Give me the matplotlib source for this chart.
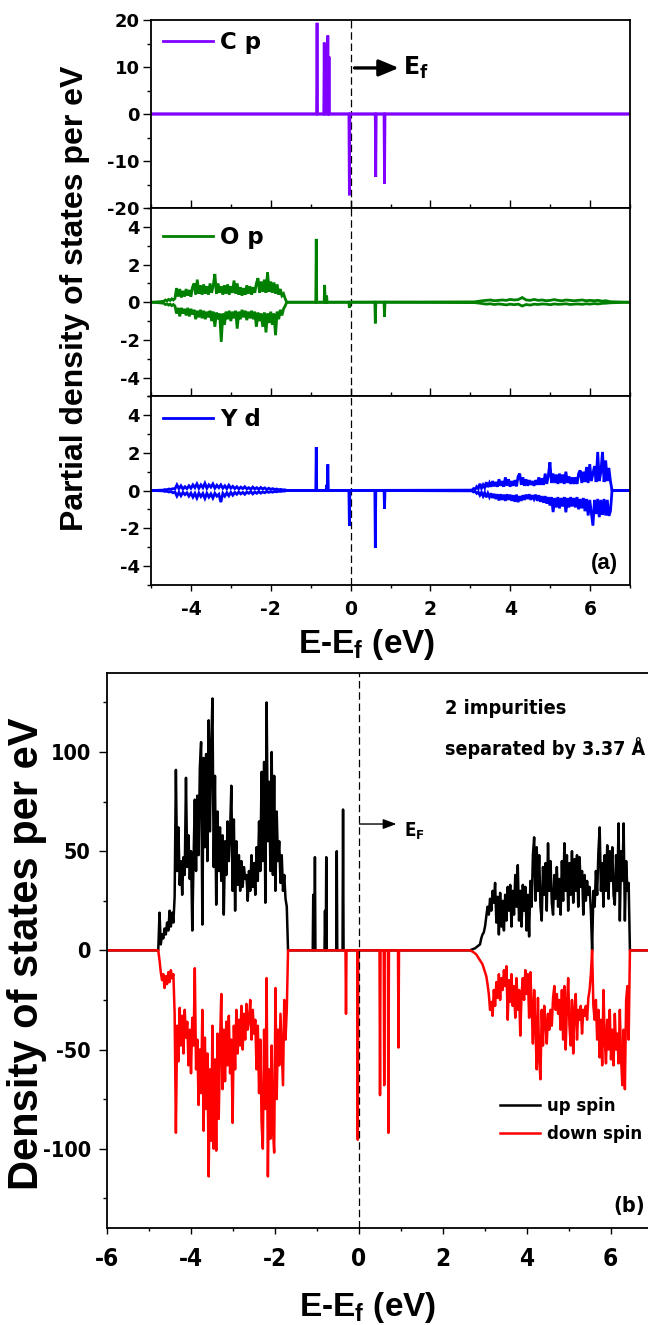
import numpy as np
import matplotlib
matplotlib.use("Agg")
import matplotlib.pyplot as plt
from matplotlib.font_manager import FontProperties, findfont
from matplotlib.ticker import MultipleLocator

# ----------------------------------------------------------------- data
cp_up_spike_E = [-0.84, -0.66, -0.57, -0.54]
cp_up_spike_v = [19.4, 15.2, 16.7, 12.2]
cp_dn_spike_E = [-0.03, 0.63, 0.85]
cp_dn_spike_v = [-17.3, -13.4, -14.8]

op_up_spike_E = [-0.86, -0.65, -0.60]
op_up_spike_v = [3.36, 0.92, 0.35]
op_dn_spike_E = [-0.03, 0.62, 0.85]
op_dn_spike_v = [-0.3, -1.12, -0.77]

op_band1_range = (-4.68, -1.60)
op_band1_up = [0.05, 0.12, 0.08, 0.15, 0.1, 0.18, 0.12, 0.2, 0.75, 0.3, 0.7, 0.25, 0.6, 0.3, 0.7, 0.35,
               0.65, 0.3, 0.8, 1.0, 0.4, 1.2, 0.45, 0.9, 0.4, 0.95, 0.45, 0.85, 0.4, 1.0, 0.5, 0.9,
               1.5, 0.45, 1.0, 0.5, 0.85, 0.4, 0.9, 0.45, 0.95, 0.4, 0.85, 0.5, 1.15, 0.45, 1.0, 0.4,
               0.8, 0.35, 0.75, 0.4, 0.9, 0.45, 0.85, 0.4, 0.8, 0.5, 1.0, 1.28, 0.5, 1.1, 0.55, 1.2,
               0.5, 1.6, 0.55, 1.1, 0.5, 1.05, 0.45, 0.95, 0.4, 0.7, 0.35, 0.45, 0.2, 0.0]
op_band1_dn = [-0.05, -0.12, -0.08, -0.15, -0.1, -0.18, -0.12, -0.2, -0.6, -0.3, -0.75, -0.3, -0.6, -0.35,
               -0.7, -0.3, -0.75, -0.35, -0.65, -0.4, -0.9, -0.45, -0.8, -0.4, -0.85, -0.45, -0.9, -0.5,
               -0.8, -0.45, -1.0, -0.5, -1.3, -0.55, -0.9, -0.6, -2.1, -0.6, -1.2, -0.5, -0.9, -0.45,
               -1.0, -0.5, -0.85, -0.45, -1.4, -0.5, -0.9, -0.4, -0.8, -0.45, -0.95, -0.5, -0.85, -0.45,
               -0.9, -0.5, -1.3, -0.55, -1.0, -0.6, -1.3, -0.55, -1.6, -0.6, -1.1, -0.5, -1.2, -0.6,
               -1.75, -0.5, -0.9, -0.4, -0.7, -0.35, -0.2, 0.0]
op_band2_range = (3.10, 6.50)
op_band2_up = [0.02, 0.05, 0.08, 0.1, 0.12, 0.08, 0.1, 0.12, 0.1, 0.15, 0.12, 0.14, 0.25, 0.12, 0.1,
               0.15, 0.1, 0.12, 0.08, 0.1, 0.14, 0.1, 0.08, 0.12, 0.1, 0.08, 0.1, 0.12, 0.08, 0.1,
               0.08, 0.1, 0.06, 0.08, 0.03]
op_band2_dn = [-0.02, -0.04, -0.07, -0.1, -0.08, -0.12, -0.09, -0.11, -0.14, -0.1, -0.13, -0.1, -0.2,
               -0.12, -0.15, -0.1, -0.12, -0.09, -0.1, -0.13, -0.09, -0.11, -0.1, -0.08, -0.12, -0.1,
               -0.09, -0.11, -0.08, -0.1, -0.07, -0.09, -0.06, -0.05, -0.03]

yd_up_spike_E = [-0.86, -0.60, -0.57]
yd_up_spike_v = [2.31, 0.3, 1.39]
yd_dn_spike_E = [-0.03, 0.62, 0.85]
yd_dn_spike_v = [-1.87, -3.06, -0.98]

yd_band1_range = (-4.70, -1.60)
yd_band1_up = [0.02, 0.05, 0.04, 0.08, 0.06, 0.1, 0.08, 0.3, 0.1, 0.25, 0.08, 0.2, 0.1, 0.25, 0.12, 0.3,
               0.15, 0.35, 0.12, 0.3, 0.15, 0.38, 0.12, 0.3, 0.18, 0.35, 0.12, 0.28, 0.15, 0.3, 0.12,
               0.25, 0.1, 0.28, 0.12, 0.22, 0.1, 0.2, 0.08, 0.18, 0.1, 0.2, 0.08, 0.15, 0.06, 0.18, 0.08,
               0.15, 0.06, 0.16, 0.08, 0.14, 0.05, 0.12, 0.06, 0.1, 0.05, 0.08, 0.04, 0.06, 0.03, 0.04, 0.0]
yd_band1_dn = [-0.02, -0.05, -0.04, -0.08, -0.06, -0.12, -0.08, -0.3, -0.1, -0.28, -0.1, -0.22, -0.12,
               -0.3, -0.14, -0.35, -0.15, -0.4, -0.14, -0.32, -0.16, -0.42, -0.15, -0.35, -0.18, -0.4,
               -0.15, -0.3, -0.2, -0.62, -0.15, -0.3, -0.12, -0.28, -0.1, -0.25, -0.1, -0.2, -0.08,
               -0.18, -0.1, -0.2, -0.08, -0.15, -0.06, -0.18, -0.08, -0.15, -0.06, -0.14, -0.07, -0.12,
               -0.05, -0.1, -0.06, -0.09, -0.05, -0.07, -0.04, -0.05, -0.03, -0.03, 0.0]
yd_band2_range = (3.04, 6.55)
yd_band2_up = [0.02, 0.1, 0.05, 0.2, 0.1, 0.36, 0.12, 0.3, 0.15, 0.44, 0.18, 0.4, 0.2, 0.5, 0.22, 0.45,
               0.2, 0.6, 0.25, 0.5, 0.2, 0.7, 0.25, 0.6, 0.2, 0.5, 0.25, 0.55, 0.22, 0.75, 0.9, 0.3,
               0.7, 0.25, 0.6, 0.25, 0.55, 0.3, 0.5, 0.25, 0.55, 0.3, 0.7, 0.3, 0.65, 0.3, 0.9, 0.35,
               0.8, 1.5, 0.4, 0.9, 0.4, 0.85, 0.35, 0.9, 0.4, 0.85, 0.35, 1.0, 0.4, 0.75, 0.35, 0.7,
               0.35, 0.7, 0.35, 0.9, 1.07, 0.4, 1.0, 0.45, 1.25, 0.4, 1.4, 0.5, 0.9, 1.3, 0.45, 2.05,
               0.5, 1.0, 2.05, 0.45, 1.6, 0.5, 1.2, 0.5, 0.0]
yd_band2_dn = [-0.02, -0.08, -0.05, -0.15, -0.08, -0.25, -0.1, -0.3, -0.12, -0.36, -0.15, -0.35, -0.15,
               -0.4, -0.18, -0.45, -0.2, -0.53, -0.2, -0.5, -0.22, -0.55, -0.2, -0.5, -0.22, -0.55,
               -0.25, -0.6, -0.22, -0.62, -0.3, -0.55, -0.25, -0.5, -0.22, -0.45, -0.2, -0.5, -0.25,
               -0.45, -0.22, -0.55, -0.25, -0.6, -0.3, -0.65, -0.3, -0.7, -0.35, -0.8, -0.35, -1.15,
               -0.4, -0.9, -0.35, -0.95, -0.4, -0.85, -0.35, -1.16, -0.4, -0.9, -0.35, -0.85, -0.4,
               -0.9, -0.35, -1.0, -0.45, -0.95, -0.4, -1.1, -0.45, -1.33, -0.5, -1.2, -1.87, -0.5,
               -1.25, -0.45, -1.42, -0.5, -1.3, -0.45, -1.33, -0.5, -1.35, -1.1, 0.0]

tot_up_spike_E = [-1.08, -1.04, -0.80, -0.77, -0.52, -0.37]
tot_up_spike_v = [28, 47, 20, 47, 50, 71]
tot_dn_spike_E = [-0.30, -0.02, 0.51, 0.61, 0.71, 0.95]
tot_dn_spike_v = [-32, -95.5, -73, -68, -92, -49]

tot_band1_range = (-4.77, -1.68)
tot_band1_up = [0, 19, 3, 8, 6, 11, 8, 14, 10, 20, 12, 19, 14, 27, 91, 40, 62, 33, 45, 28, 47, 38, 87,
                42, 58, 36, 50, 10, 45, 76, 40, 78, 48, 92, 105, 13, 97, 52, 99, 45, 116, 60, 102, 127,
                42, 88, 23, 70, 40, 62, 35, 58, 18, 55, 38, 65, 45, 60, 83, 30, 66, 20, 55, 33, 48, 30,
                45, 32, 42, 36, 38, 25, 40, 30, 48, 32, 44, 28, 52, 35, 65, 40, 90, 45, 95, 24, 125, 55,
                85, 40, 100, 38, 88, 30, 70, 45, 55, 34, 48, 30, 38, 26, 22, 0]
tot_band1_dn = [0, -5, -11, -15, -12, -19, -13, -17, -11, -16, -10, -14, -12, -32, -92, -38, -56, -29,
                -48, -33, -52, -30, -44, -36, -58, -40, -62, -34, -48, -9, -60, -45, -78, -50, -72, -30,
                -91, -44, -80, -52, -114, -60, -96, -38, -100, -55, -101, -42, -85, -48, -22, -70, -40,
                -66, -36, -58, -33, -62, -45, -87, -38, -60, -30, -52, -35, -48, -28, -50, -32, -45,
                -27, -40, -35, -25, -45, -30, -42, -35, -60, -38, -72, -45, -87, -100, -40, -80, -14,
                -114, -60, -95, -48, -90, -102, -19, -75, -40, -58, -32, -50, -68, -25, -45, -30, 0]
tot_band2_range = (2.65, 6.46)
tot_band2_up = [0, 0.3, 0.5, 0.8, 1.0, 1.5, 2, 2.5, 3, 6, 8, 9, 12, 17, 22, 18, 26, 20, 30, 24, 34, 14,
                27, 8, 29, 12, 25, 10, 28, 15, 32, 20, 33, 12, 30, 18, 38, 22, 43, 15, 30, 12, 33, 20,
                32, 10, 28, 7, 35, 22, 48, 57, 25, 52, 30, 48, 22, 15, 42, 28, 44, 20, 54, 30, 45, 24,
                18, 38, 26, 42, 22, 36, 18, 45, 25, 54, 30, 48, 20, 44, 28, 50, 24, 46, 30, 48, 22, 47,
                32, 40, 18, 38, 25, 35, 28, 32, 20, 0, 30, 22, 40, 28, 50, 62, 30, 44, 22, 48, 30, 53,
                26, 50, 35, 52, 28, 23, 48, 30, 64, 15, 50, 35, 64, 15, 45, 30, 34, 0]
tot_band2_dn = [0, -0.3, -0.6, -1, -1.5, -2, -3, -4, -5, -6, -7, -9, -11, -13, -17, -22, -30, -26, -33,
                -20, -28, -16, -24, -12, -25, -14, -20, -10, -18, -8, -35, -15, -26, -12, -28, -18, -34,
                -14, -30, -20, -43, -22, -14, -25, -10, -22, -12, -34, -11, -28, -47, -20, -38, -60,
                -24, -55, -65, -30, -48, -28, -36, -47, -32, -40, -30, -38, -24, -18, -30, -22, -32,
                -25, -40, -20, -45, -18, -50, -28, -14, -38, -48, -25, -52, -30, -22, -45, -30, -35,
                -28, -42, -30, -33, -28, -35, -24, -20, -12, 0, -28, -35, -25, -45, -30, -54, -35, -58,
                -20, -45, -57, -35, -50, -30, -55, -40, -58, -32, -50, -42, -57, -30, -55, -68, -40,
                -70, -25, -18, -45, 0]

# ----------------------------------------------------------------- fonts
def font_path(fam, stretch="normal"):
    try:
        return findfont(FontProperties(family=fam, weight="bold", stretch=stretch),
                        fallback_to_default=False)
    except Exception:
        return ""

if "Condensed" in font_path("DejaVu Sans", "condensed"):
    NARROW, NSTRETCH = "DejaVu Sans", "condensed"
else:
    NARROW, NSTRETCH = "Liberation Sans", "normal"
ARIAL = "Liberation Sans"
WIDE = "DejaVu Sans"

plt.rcParams["font.family"] = [WIDE]
plt.rcParams["font.weight"] = "bold"
plt.rcParams["axes.linewidth"] = 1.3
plt.rcParams["axes.unicode_minus"] = False


def build_curve(lo, hi, bands, spike_E, spike_v, hw=0.012):
    pts = [(lo, 0.0), (hi, 0.0)]
    for (e0, e1), vals in bands:
        E = np.linspace(e0, e1, len(vals))
        pts += list(zip(E, vals))
    for e, v in zip(spike_E, spike_v):
        pts += [(e - hw, 0.0), (e, v), (e + hw, 0.0)]
    pts.sort(key=lambda p: p[0])
    arr = np.array(pts, dtype=float)
    return arr[:, 0], arr[:, 1]


W, H = 648.0, 1325.0
fig = plt.figure(figsize=(W / 100, H / 100), dpi=100)


def fax(l, t, r, b):
    return fig.add_axes([l / W, 1 - b / H, (r - l) / W, (b - t) / H])


ax1 = fax(151, 20, 630, 208)
ax2 = fax(151, 208, 630, 396.5)
ax3 = fax(151, 396.5, 630, 584.5)
axb = fax(106.6, 672.7, 106.6 + 13 * 42, 1228)

dash = (0, (6, 3))

specs = [
    (ax1, "#8000ff", "C p", [], [], cp_up_spike_E, cp_up_spike_v, cp_dn_spike_E, cp_dn_spike_v, (-20, 20), 10, 5, 0.94),
    (ax2, "#008000", "O p", [(op_band1_range, op_band1_up), (op_band2_range, op_band2_up)],
     [(op_band1_range, op_band1_dn), (op_band2_range, op_band2_dn)],
     op_up_spike_E, op_up_spike_v, op_dn_spike_E, op_dn_spike_v, (-5, 5), 2, 1, 0.905),
    (ax3, "#0000ff", "Y d", [(yd_band1_range, yd_band1_up), (yd_band2_range, yd_band2_up)],
     [(yd_band1_range, yd_band1_dn), (yd_band2_range, yd_band2_dn)],
     yd_up_spike_E, yd_up_spike_v, yd_dn_spike_E, yd_dn_spike_v, (-5, 5), 2, 1, 0.94),
]
for i, (ax, col, lab, bu, bd, ue, uv, de, dv, ylim, maj, mnr, legy) in enumerate(specs):
    xu, yu = build_curve(-4.95, 6.95, bu, ue, uv)
    xd, yd = build_curve(-4.95, 6.95, bd, de, dv)
    l1, = ax.plot(xu, yu, color=col, lw=2.0, solid_joinstyle="miter")
    ax.plot(xd, yd, color=col, lw=2.0, solid_joinstyle="miter")
    ax.axvline(0, color="black", lw=0.9, ls=dash, zorder=0)
    ax.set_xlim(-5, 7)
    ax.set_ylim(*ylim)
    ax.xaxis.set_major_locator(MultipleLocator(2))
    ax.xaxis.set_minor_locator(MultipleLocator(1))
    ax.yaxis.set_major_locator(MultipleLocator(maj))
    ax.yaxis.set_minor_locator(MultipleLocator(mnr))
    last = (i == 2)
    ax.tick_params(axis="x", which="both", direction=("out" if last else "in"),
                   top=False, bottom=True, labelbottom=last, labelsize=13.5, pad=6.5,
                   labelfontfamily=WIDE)
    ax.tick_params(axis="x", which="major", length=(4.5 if last else 6), width=1.0)
    ax.tick_params(axis="x", which="minor", length=(2.5 if last else 3), width=1.0)
    ax.tick_params(axis="y", which="both", direction="out", left=True, right=False,
                   labelsize=13, pad=2, labelfontfamily=WIDE)
    ax.tick_params(axis="y", which="major", length=6, width=1.0)
    ax.tick_params(axis="y", which="minor", length=3, width=1.0)
    ax.legend([l1], [lab], loc="upper left", bbox_to_anchor=(0.025, legy), frameon=False,
              borderpad=0, borderaxespad=0, handlelength=2.2, handletextpad=0.3,
              prop=dict(family=WIDE, weight="bold", size=16.5))

ax1.annotate("", xy=(1.21, 9.8), xytext=(0.1, 9.8),
             arrowprops=dict(arrowstyle="-|>,head_length=0.6,head_width=0.25", lw=2.4,
                             color="black", shrinkA=0, shrinkB=0, mutation_scale=20))
ax1.text(1.31, 9.8, "E$_\\mathregular{f}$", fontsize=17, family=WIDE, weight="bold",
         ha="left", va="center")
ax3.text(0.975, 0.114, "(a)", transform=ax3.transAxes, ha="right", va="center",
         fontsize=16, family=ARIAL, weight="bold")

fig.text(75 / W, 1 - 298 / H, "Partial density of states per eV", rotation=90,
         ha="center", va="center", family=ARIAL, weight="bold", fontsize=23)
fig.text(367 / W, 1 - 653 / H, "E-E$_\\mathregular{f}$ (eV)", ha="center", va="baseline",
         family=ARIAL, weight="bold", fontsize=24)

# ---------------- panel (b)
xu, yu = build_curve(-6.5, 7.5, [(tot_band1_range, tot_band1_up), (tot_band2_range, tot_band2_up)],
                     tot_up_spike_E, tot_up_spike_v)
xd, yd = build_curve(-6.5, 7.5, [(tot_band1_range, tot_band1_dn), (tot_band2_range, tot_band2_dn)],
                     tot_dn_spike_E, tot_dn_spike_v)
lu, = axb.plot(xu, yu, color="black", lw=1.8)
ld, = axb.plot(xd, yd, color="#ff0000", lw=1.8)
axb.axvline(0, color="black", lw=0.9, ls=dash, zorder=3)
axb.set_xlim(-6, 7)
axb.set_ylim(-140, 140)
axb.xaxis.set_major_locator(MultipleLocator(2))
axb.xaxis.set_minor_locator(MultipleLocator(1))
axb.yaxis.set_major_locator(MultipleLocator(50))
axb.yaxis.set_minor_locator(MultipleLocator(25))
axb.tick_params(axis="both", which="both", direction="out", top=False, right=False,
                labelfontfamily=NARROW)
axb.tick_params(axis="x", which="major", length=4.5, width=1.0, labelsize=17.5, pad=9)
axb.tick_params(axis="x", which="minor", length=2.5, width=1.0)
axb.tick_params(axis="y", which="major", length=6, width=1.0, labelsize=15.5, pad=5.5)
axb.tick_params(axis="y", which="minor", length=3, width=1.0)

axb.annotate("", xy=(0.9, 63.7), xytext=(0.02, 63.7),
             arrowprops=dict(arrowstyle="-|>,head_length=0.8,head_width=0.3", lw=1.0,
                             color="black", shrinkA=0, shrinkB=0, mutation_scale=10))
nprop = dict(family=NARROW, weight="bold", stretch=NSTRETCH)
axb.text(1.07, 60, "E$_\\mathregular{F}$", fontsize=13.5, ha="left", va="center", **nprop)
axb.text(2.05, 122, "2 impurities", fontsize=14.3, ha="left", va="center", **nprop)
axb.text(2.05, 102, "separated by 3.37 Å", fontsize=14.1, ha="left", va="center", **nprop)
axb.text(6.82, -129, "(b)", fontsize=15.5, ha="right", va="center", **nprop)
axb.legend([lu, ld], ["up spin", "down spin"], loc="upper left", bbox_to_anchor=(0.7205, 0.236),
           frameon=False, borderpad=0, borderaxespad=0, handlelength=2.2, handletextpad=0.36,
           labelspacing=0.55, prop=dict(size=13.2, **nprop))

fig.text(27 / W, 1 - 954 / H, "Density of states per eV", rotation=90, ha="center", va="center",
         family=ARIAL, weight="bold", fontsize=30)
fig.text(368 / W, 1 - 1316 / H, "E-E$_\\mathregular{f}$ (eV)", ha="center", va="baseline",
         family=ARIAL, weight="bold", fontsize=24)

fig.canvas.draw()
for lab in axb.get_xticklabels() + axb.get_yticklabels():
    lab.set_fontstretch(NSTRETCH)

fig.savefig("out.png", dpi=100)
